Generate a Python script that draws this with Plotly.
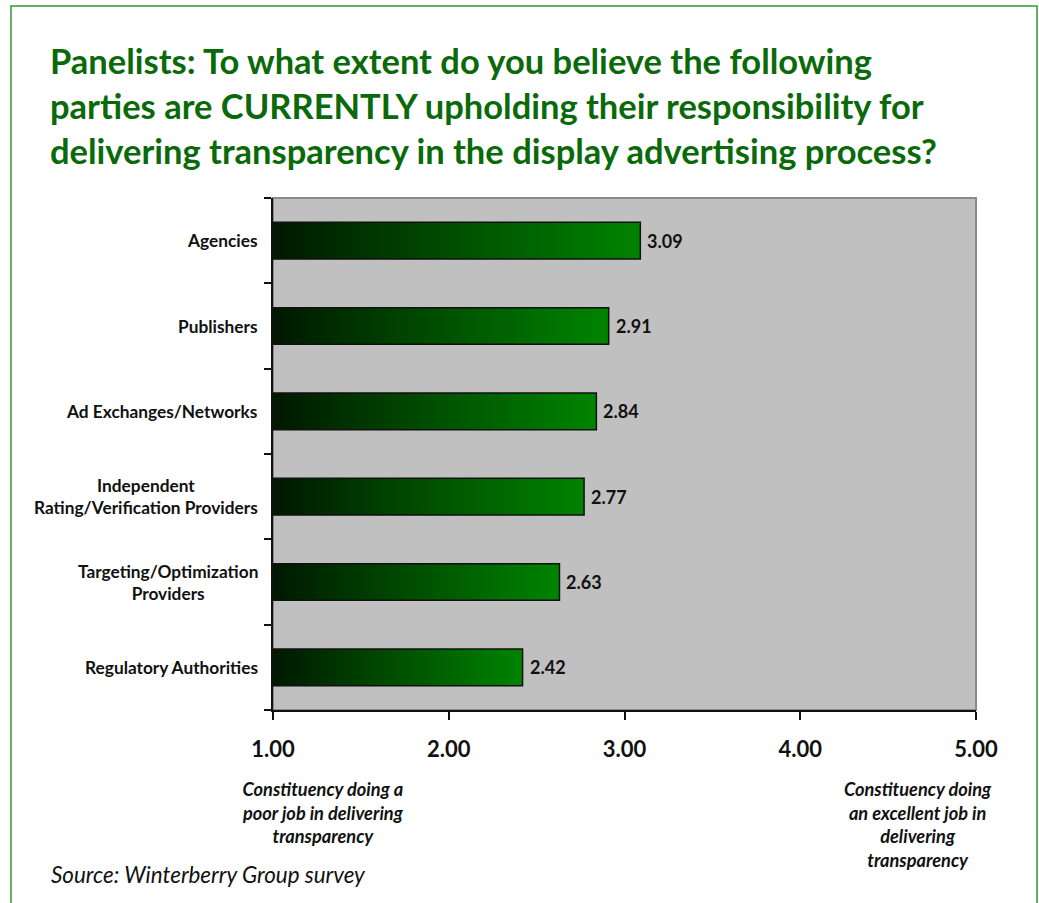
import plotly.graph_objects as go

# Survey results (mean rating, 1 = poor job, 5 = excellent job)
categories = [
    "Agencies",
    "Publishers",
    "Ad Exchanges/Networks",
    "Independent<br>Rating/Verification Providers",
    "Targeting/Optimization<br>Providers",
    "Regulatory Authorities",
]
scores = [3.09, 2.91, 2.84, 2.77, 2.63, 2.42]
x_ticks = [1, 2, 3, 4, 5]
x_tick_labels = ["1.00", "2.00", "3.00", "4.00", "5.00"]

FONT = "Lato"
W, H = 1039, 903
L, R, T, B = 273, 63, 198, 193
PW, PH = W - L - R, H - T - B
BAR_HALF = 0.215
X_MIN = 1.0

def px_to_paper_x(px):
    return (px - L) / PW

def px_to_paper_y(py):
    return (H - B - py) / PH

fig = go.Figure()

# Horizontal bars as filled shapes with a dark-to-green gradient
for i, (cat, val) in enumerate(zip(categories, scores)):
    fig.add_trace(go.Scatter(
        x=[X_MIN, val, val, X_MIN, X_MIN],
        y=[i - BAR_HALF, i - BAR_HALF, i + BAR_HALF, i + BAR_HALF, i - BAR_HALF],
        mode="lines",
        fill="toself",
        fillgradient=dict(
            type="horizontal",
            colorscale=[[0, "#001800"], [0.5, "#004f00"], [1, "#008400"]],
        ),
        line=dict(color="#111111", width=1.5),
        hoverinfo="skip",
        showlegend=False,
    ))

annotations = []

# Value labels at the bar ends
for i, val in enumerate(scores):
    annotations.append(dict(
        x=val, y=i, xref="x", yref="y",
        text=f"<b>{val:.2f}</b>", showarrow=False,
        xanchor="left", yanchor="middle", xshift=5,
        font=dict(family=FONT, size=18, color="#111111"),
    ))

# Category labels to the left of the plot area
for i, cat in enumerate(categories):
    annotations.append(dict(
        x=X_MIN, y=i, xref="x", yref="y",
        text=f"<b>{cat}</b>", showarrow=False,
        xanchor="right", yanchor="middle", align="center",
        xshift=-13,
        font=dict(family=FONT, size=17.3, color="#111111"),
    ))

# Title
annotations.append(dict(
    x=px_to_paper_x(48), y=px_to_paper_y(38), xref="paper", yref="paper",
    text="<b>Panelists: To what extent do you believe the following<br>"
         "parties are CURRENTLY upholding their responsibility for<br>"
         "delivering transparency in the display advertising process?</b>",
    showarrow=False, xanchor="left", yanchor="top", align="left",
    font=dict(family=FONT, size=34.5, color="#0a6a0a"),
))

# Scale end descriptions
annotations.append(dict(
    x=px_to_paper_x(323), y=px_to_paper_y(776), xref="paper", yref="paper",
    text="<b><i>Constituency doing a<br>poor job in delivering<br>transparency</i></b>",
    showarrow=False, xanchor="center", yanchor="top", align="center",
    font=dict(family=FONT, size=18.2, color="#111111"),
))
annotations.append(dict(
    x=px_to_paper_x(918), y=px_to_paper_y(776), xref="paper", yref="paper",
    text="<b><i>Constituency doing<br>an excellent job in<br>delivering<br>transparency</i></b>",
    showarrow=False, xanchor="center", yanchor="top", align="center",
    font=dict(family=FONT, size=18.2, color="#111111"),
))

# Source note
annotations.append(dict(
    x=px_to_paper_x(49), y=px_to_paper_y(874), xref="paper", yref="paper",
    text="<i>Source: Winterberry Group survey</i>",
    showarrow=False, xanchor="left", yanchor="middle", align="left",
    font=dict(family=FONT, size=22.4, color="#111111"),
))

shapes = [
    # Plot area frame (top/right in gray)
    dict(type="rect", xref="paper", yref="paper", x0=0, x1=1, y0=0, y1=1,
         line=dict(color="#8a8a8a", width=2), layer="below"),
    # Outer green frame
    dict(type="rect", xref="paper", yref="paper",
         x0=px_to_paper_x(11), x1=px_to_paper_x(1037),
         y0=px_to_paper_y(920), y1=px_to_paper_y(6),
         line=dict(color="#2e9a2e", width=1.5)),
]

fig.update_layout(
    width=W, height=H,
    margin=dict(l=L, r=R, t=T, b=B),
    paper_bgcolor="white",
    plot_bgcolor="#c0c0c0",
    annotations=annotations,
    shapes=shapes,
    showlegend=False,
    xaxis=dict(
        range=[1, 5],
        tickvals=x_ticks,
        ticktext=[f"<b>{t}</b>" for t in x_tick_labels],
        tickfont=dict(family=FONT, size=22, color="#111111"),
        ticks="outside", ticklen=8, tickwidth=1.5, tickcolor="#111111",
        ticklabelstandoff=11,
        showline=True, linecolor="#111111", linewidth=2,
        showgrid=False, zeroline=False, fixedrange=True,
    ),
    yaxis=dict(
        range=[len(categories) - 0.5, -0.5],
        tickvals=list(range(len(categories))),
        showticklabels=False,
        ticks="",
        minor=dict(
            tickvals=[k - 0.5 for k in range(len(categories) + 1)],
            ticks="outside", ticklen=7, tickwidth=1.5, tickcolor="#111111",
            showgrid=False,
        ),
        showline=True, linecolor="#111111", linewidth=2,
        showgrid=False, zeroline=False, fixedrange=True,
    ),
)

fig.write_html("out.html")
